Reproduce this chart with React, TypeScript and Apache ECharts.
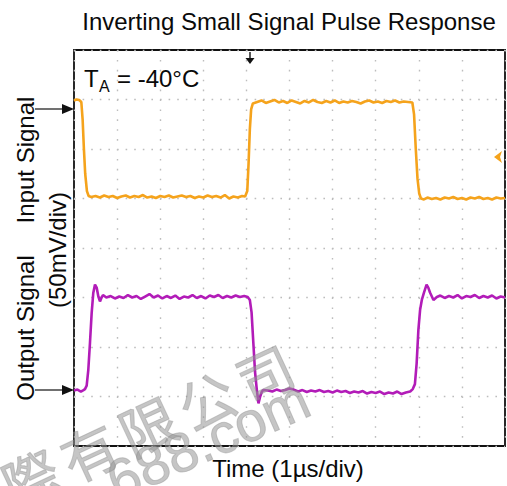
import React, { useEffect, useRef } from "react";
import * as echarts from "echarts";

// Time in divisions (1 µs/div), amplitude in divisions (50 mV/div)
const inputT = [0, 0.06, 0.12, 0.17, 0.2, 0.23, 0.26, 0.3, 0.34, 0.4, 0.5, 0.6, 0.7, 0.8, 0.9, 1.0, 1.1, 1.2, 1.3, 1.4, 1.5, 1.6, 1.7, 1.8, 1.9, 2.0, 2.1, 2.2, 2.3, 2.4, 2.5, 2.6, 2.7, 2.8, 2.9, 3.0, 3.1, 3.2, 3.3, 3.4, 3.5, 3.6, 3.7, 3.8, 3.9, 3.97, 4.02, 4.05, 4.08, 4.11, 4.15, 4.25, 4.35, 4.45, 4.55, 4.65, 4.75, 4.85, 4.95, 5.05, 5.15, 5.25, 5.35, 5.45, 5.55, 5.65, 5.75, 5.85, 5.95, 6.05, 6.15, 6.25, 6.35, 6.45, 6.55, 6.65, 6.75, 6.85, 6.95, 7.05, 7.15, 7.25, 7.35, 7.45, 7.55, 7.65, 7.75, 7.85, 7.89, 7.93, 7.97, 8.01, 8.05, 8.12, 8.2, 8.3, 8.4, 8.5, 8.6, 8.7, 8.8, 8.9, 9.0, 9.1, 9.2, 9.3, 9.4, 9.5, 9.6, 9.7, 9.8, 9.9, 10];
const inputV = [2.98, 3.0, 2.99, 2.95, 2.6, 2.0, 1.5, 1.15, 1.05, 1.03, 1.05, 1.02, 1.06, 1.03, 1.05, 1.01, 1.04, 1.06, 1.02, 1.05, 1.03, 1.07, 1.02, 1.04, 1.01, 1.05, 1.03, 1.06, 1.02, 1.04, 1.06, 1.03, 1.05, 1.01, 1.04, 1.02, 1.06, 1.03, 1.05, 1.02, 1.07, 1.0, 1.04, 1.02, 1.05, 1.04, 1.15, 1.7, 2.4, 2.8, 2.92, 2.95, 2.98, 2.93, 2.96, 2.99, 2.94, 2.97, 2.93, 2.98, 2.95, 2.92, 2.97, 2.94, 2.99, 2.95, 2.93, 2.97, 2.94, 2.98, 2.93, 2.96, 2.94, 2.97, 2.95, 2.92, 2.96, 2.98, 2.94, 2.96, 2.93, 2.97, 2.95, 2.98, 2.94, 2.96, 2.95, 2.94, 2.7, 2.0, 1.4, 1.1, 1.0, 0.98, 1.02, 0.99, 1.01, 0.98, 1.02, 1.0, 1.03, 0.99, 1.01, 0.98, 1.02, 1.0, 1.03, 0.99, 1.01, 0.98, 1.02, 1.0, 1.01];

const outputT = [0, 0.08, 0.16, 0.22, 0.255, 0.294, 0.332, 0.371, 0.41, 0.447, 0.487, 0.526, 0.565, 0.603, 0.64, 0.673, 0.75, 0.85, 0.95, 1.05, 1.15, 1.25, 1.35, 1.45, 1.55, 1.65, 1.75, 1.85, 1.95, 2.05, 2.15, 2.25, 2.35, 2.45, 2.55, 2.65, 2.75, 2.85, 2.95, 3.05, 3.15, 3.25, 3.35, 3.45, 3.55, 3.65, 3.75, 3.85, 3.95, 4.03, 4.08, 4.12, 4.16, 4.2, 4.24, 4.28, 4.32, 4.36, 4.39, 4.5, 4.6, 4.7, 4.8, 4.9, 5.0, 5.1, 5.2, 5.3, 5.4, 5.5, 5.6, 5.7, 5.8, 5.9, 6.0, 6.1, 6.2, 6.3, 6.4, 6.5, 6.6, 6.7, 6.8, 6.9, 7.0, 7.1, 7.2, 7.3, 7.4, 7.5, 7.6, 7.7, 7.8, 7.86, 7.91, 7.95, 7.99, 8.03, 8.07, 8.12, 8.18, 8.22, 8.26, 8.34, 8.42, 8.5, 8.6, 8.7, 8.8, 8.9, 9.0, 9.1, 9.2, 9.3, 9.4, 9.5, 9.6, 9.7, 9.8, 9.9, 10];
const outputV = [-2.88, -2.86, -2.9, -2.87, -2.85, -2.78, -2.46, -1.91, -1.31, -0.91, -0.74, -0.8, -0.98, -1.08, -1.0, -0.95, -1.0, -0.97, -1.02, -0.98, -1.01, -0.95, -1.0, -0.97, -1.03, -0.98, -0.93, -1.0, -0.96, -1.02, -0.97, -1.01, -0.96, -1.03, -0.98, -1.0, -0.95, -1.01, -0.97, -1.02, -0.96, -0.99, -0.95, -1.01, -0.97, -1.0, -0.96, -0.99, -0.97, -0.99, -1.05, -1.3, -1.9, -2.5, -2.85, -3.14, -3.0, -2.9, -2.87, -2.88, -2.9, -2.86, -2.89, -2.87, -2.84, -2.86, -2.9, -2.87, -2.91, -2.88, -2.9, -2.87, -2.91, -2.89, -2.92, -2.88, -2.91, -2.89, -2.93, -2.9, -2.92, -2.89, -2.94, -2.91, -2.93, -2.9, -2.95, -2.92, -2.94, -2.9, -2.95, -2.92, -2.9, -2.85, -2.75, -2.33, -1.66, -1.25, -1.05, -0.9, -0.74, -0.8, -0.9, -1.05, -0.99, -0.96, -1.01, -0.97, -1.0, -0.95, -1.02, -0.97, -0.99, -0.95, -1.01, -0.97, -1.0, -0.96, -1.02, -0.98, -1.0];

const titleText = "Inverting Small Signal Pulse Response";
const xLabel = "Time (1µs/div)";
const yLabelTop = "Input Signal";
const yLabelBottom = "Output Signal";
const yLabelUnit = "(50mV/div)";
const tempLabel = "= -40°C";
const watermarkChars = ["際", "有", "限", "公", "司"];
const watermarkSite = "688.com";

const FONT = "Liberation Sans, Arial, sans-serif";

export default function App() {
  const ref = useRef<HTMLDivElement>(null);
  useEffect(() => {
    if (!ref.current) return;
    const chart = echarts.init(ref.current, null, { renderer: "svg" });
    const inputData = inputT.map((t, i) => [t, inputV[i]]);
    const outputData = outputT.map((t, i) => [t, outputV[i]]);
    const txt = (text: string, x: number, y: number, size: number, extra: any = {}) => ({
      type: "text",
      x,
      y,
      z: 100,
      style: {
        text,
        fontSize: size,
        fontFamily: FONT,
        fill: "#0a0a0a",
        align: "center",
        verticalAlign: "middle",
        ...(extra.style || {}),
      },
      ...(extra.el || {}),
    });
    // watermark glyph placement (decoration, not data)
    const wmStart = [30, 476];
    const wmStep = [58.5, -26];
    const wmRot = (25 * Math.PI) / 180;
    const wmStyle = {
      fill: "rgba(150,150,150,0.55)",
      stroke: "rgba(120,120,120,0.35)",
      lineWidth: 1,
      align: "center",
      verticalAlign: "middle",
    };
    const wmGlyphs = watermarkChars.map((c, i) => ({
      type: "text",
      x: wmStart[0] + wmStep[0] * i,
      y: wmStart[1] + wmStep[1] * i,
      z: 200,
      rotation: wmRot,
      style: { text: c, fontSize: 56, fontFamily: "Noto Sans CJK JP, sans-serif", ...wmStyle },
    }));
    chart.setOption({
      animation: false,
      backgroundColor: "#fff",
      grid: {
        left: 74,
        top: 50,
        width: 431,
        height: 396,
        show: true,
        borderColor: "#111",
        borderWidth: 1.8,
        backgroundColor: "#fff",
      },
      xAxis: {
        type: "value",
        min: 0,
        max: 10,
        interval: 1,
        axisLine: { show: false },
        axisTick: { show: false },
        axisLabel: { show: false },
        splitLine: { show: true, lineStyle: { color: "#bdbdbd", width: 1.4, type: [1.6, 8.3] } },
      },
      yAxis: {
        type: "value",
        min: -4,
        max: 4,
        interval: 1,
        axisLine: { show: false },
        axisTick: { show: false },
        axisLabel: { show: false },
        splitLine: { show: true, lineStyle: { color: "#bdbdbd", width: 1.4, type: [1.6, 7.0] } },
      },
      series: [
        {
          type: "line",
          data: inputData,
          showSymbol: false,
          lineStyle: { color: "#f5a31c", width: 2.6 },
          z: 3,
        },
        {
          type: "line",
          data: outputData,
          showSymbol: false,
          lineStyle: { color: "#b21cb8", width: 2.6 },
          z: 4,
        },
      ],
      graphic: [
        txt(titleText, 289, 21, 24),
        txt(xLabel, 288, 468, 24),
        txt(yLabelTop, 25, 160, 24, { el: { rotation: Math.PI / 2 } }),
        txt(yLabelBottom, 25, 328, 24, { el: { rotation: Math.PI / 2 } }),
        txt(yLabelUnit, 57, 250, 24, { el: { rotation: Math.PI / 2 } }),
        txt("T", 84, 78, 24, { style: { align: "left" } }),
        txt("A", 99, 86, 16, { style: { align: "left" } }),
        txt(tempLabel, 117, 78, 24, { style: { align: "left" } }),
        // input arrow
        { type: "line", z: 100, shape: { x1: 35, y1: 109, x2: 64, y2: 109 }, style: { stroke: "#111", lineWidth: 1.2 } },
        { type: "polygon", z: 100, shape: { points: [[62, 104], [74, 109], [62, 114]] }, style: { fill: "#111" } },
        // output arrow
        { type: "line", z: 100, shape: { x1: 35, y1: 390, x2: 64, y2: 390 }, style: { stroke: "#111", lineWidth: 1.2 } },
        { type: "polygon", z: 100, shape: { points: [[62, 385], [74, 390], [62, 395]] }, style: { fill: "#111" } },
        // trigger marker at top
        { type: "line", z: 100, shape: { x1: 250, y1: 52, x2: 250, y2: 60 }, style: { stroke: "#111", lineWidth: 1.4 } },
        { type: "polygon", z: 100, shape: { points: [[245.5, 58], [254.5, 58], [250, 64]] }, style: { fill: "#111" } },
        // input ground marker at right
        { type: "polygon", z: 100, shape: { points: [[494, 157], [502, 151], [500, 157], [502, 163]] }, style: { fill: "#f5a31c" } },
        // watermark
        ...wmGlyphs,
        {
          type: "text",
          x: 208,
          y: 440,
          z: 200,
          rotation: (24 * Math.PI) / 180,
          style: { text: watermarkSite, fontSize: 56, fontFamily: FONT, ...wmStyle },
        },
      ],
    });
    return () => chart.dispose();
  }, []);
  return <div ref={ref} style={{ position: "absolute", left: 0, top: 0, width: 507, height: 486 }} />;
}
